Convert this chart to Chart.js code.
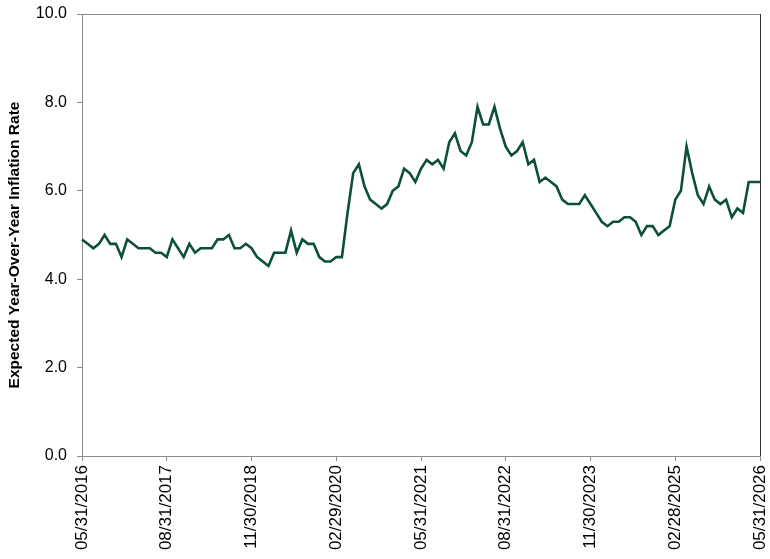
<!DOCTYPE html>
<html>
<head>
<meta charset="utf-8">
<script src="https://cdn.jsdelivr.net/npm/chart.js@4.4.1/dist/chart.umd.min.js"></script>
<style>
  html, body { margin: 0; padding: 0; background: #fff; }
  #wrap { width: 770px; height: 559px; }
</style>
</head>
<body>
<div id="wrap"><canvas id="chart"></canvas></div>
<script>
// Monthly readings, one per month-end from 05/2016 to 05/2026
const startYear = 2016;
const startMonth = 4; // May, 0-based

const inflationRate = [
    4.9, 4.8, 4.7, 4.8, 5.0, 4.8, 4.8, 4.5, 4.9, 4.8, 4.7, 4.7, 4.7, 4.6, 4.6, 4.5,
    4.9, 4.7, 4.5, 4.8, 4.6, 4.7, 4.7, 4.7, 4.9, 4.9, 5.0, 4.7, 4.7, 4.8, 4.7,
    4.5, 4.4, 4.3, 4.6, 4.6, 4.6, 5.1, 4.6, 4.9, 4.8, 4.8, 4.5, 4.4, 4.4, 4.5, 4.5,
    5.5, 6.4, 6.6, 6.1, 5.8, 5.7, 5.6, 5.7, 6.0, 6.1, 6.5, 6.4, 6.2, 6.5, 6.7, 6.6,
    6.7, 6.5, 7.1, 7.3, 6.9, 6.8, 7.1,
    7.9, 7.5, 7.5, 7.9, 7.4, 7.0, 6.8, 6.9, 7.1, 6.6, 6.7, 6.2, 6.3, 6.2, 6.1, 5.8,
    5.7, 5.7, 5.7, 5.9, 5.7, 5.5, 5.3, 5.2, 5.3, 5.3, 5.4,
    5.4, 5.3, 5.0, 5.2, 5.2, 5.0, 5.1, 5.2, 5.8, 6.0, 7.0, 6.4, 5.9, 5.7, 6.1, 5.8,
    5.7, 5.8, 5.4, 5.6, 5.5, 6.2, 6.2, 6.2
];

const xTickLabels = [
    '05/31/2016', '08/31/2017', '11/30/2018', '02/29/2020', '05/31/2021',
    '08/31/2022', '11/30/2023', '02/28/2025', '05/31/2026'
];

const yMin = 0;
const yMax = 10;
const yStep = 2;
const yTitle = 'Expected Year-Over-Year Inflation Rate';

const AXIS_GREY = '#8c8c8c';
const LINE_GREEN = '#0c4f3c';
const FONT = "'Liberation Sans', Arial, sans-serif";

// Month-end category labels (MM/DD/YYYY)
function monthEndLabel(offset) {
    const d = new Date(startYear, startMonth + offset + 1, 0);
    const mm = String(d.getMonth() + 1).padStart(2, '0');
    const dd = String(d.getDate()).padStart(2, '0');
    return mm + '/' + dd + '/' + d.getFullYear();
}
const dates = inflationRate.map((_, i) => monthEndLabel(i));

// Box round the plot area (grey top, dark right edge) + rotated y title
const framePlugin = {
    id: 'frame',
    afterDraw(chart) {
        const { ctx, chartArea: a } = chart;
        ctx.save();
        ctx.lineWidth = 1;
        ctx.strokeStyle = AXIS_GREY;
        ctx.beginPath();
        ctx.moveTo(a.left, a.top + 0.5);
        ctx.lineTo(a.right, a.top + 0.5);
        ctx.stroke();
        ctx.strokeStyle = '#333333';
        ctx.beginPath();
        ctx.moveTo(a.right + 0.5, a.top);
        ctx.lineTo(a.right + 0.5, a.bottom);
        ctx.stroke();

        // y axis title, sits a bit below the plot's middle like the original
        ctx.translate(15, 245);
        ctx.rotate(-Math.PI / 2);
        ctx.fillStyle = '#000';
        ctx.font = 'bold 15.5px ' + FONT;
        ctx.textAlign = 'center';
        ctx.textBaseline = 'middle';
        ctx.fillText(yTitle, 0, 0);
        ctx.restore();
    }
};

new Chart(document.getElementById('chart').getContext('2d'), {
    type: 'line',
    data: {
        labels: dates,
        datasets: [{
            label: yTitle,
            data: inflationRate,
            borderColor: LINE_GREEN,
            borderWidth: 2.6,
            pointRadius: 0,
            tension: 0,
            fill: false
        }]
    },
    options: {
        responsive: true,
        maintainAspectRatio: false,
        animation: false,
        layout: { padding: { top: 14, right: 10, left: 0, bottom: 0 } },
        plugins: {
            legend: { display: false },
            tooltip: { enabled: false }
        },
        scales: {
            x: {
                type: 'category',
                offset: false,
                grid: {
                    display: true,
                    drawOnChartArea: false,
                    drawTicks: true,
                    tickLength: 5,
                    color: AXIS_GREY
                },
                border: { display: true, color: AXIS_GREY, width: 1 },
                ticks: {
                    autoSkip: false,
                    minRotation: 90,
                    maxRotation: 90,
                    padding: 4,
                    color: '#000',
                    font: { family: FONT, size: 17 },
                    callback: function (value) {
                        const lbl = this.getLabelForValue(value);
                        return xTickLabels.includes(lbl) ? lbl : null;
                    }
                },
                afterFit: (scale) => {
                    scale.height = 103;
                    scale.paddingLeft = 0;
                    scale.paddingRight = 0;
                }
            },
            y: {
                min: yMin,
                max: yMax,
                grid: {
                    display: true,
                    drawOnChartArea: false,
                    drawTicks: true,
                    tickLength: 5,
                    color: AXIS_GREY
                },
                border: { display: true, color: AXIS_GREY, width: 1 },
                ticks: {
                    stepSize: yStep,
                    padding: 10,
                    color: '#000',
                    font: { family: FONT, size: 16 },
                    callback: (v) => Number(v).toFixed(1)
                },
                afterFit: (scale) => {
                    scale.width = 82;
                    scale.paddingTop = 0;
                    scale.paddingBottom = 0;
                }
            }
        }
    },
    plugins: [framePlugin]
});
</script>
</body>
</html>
